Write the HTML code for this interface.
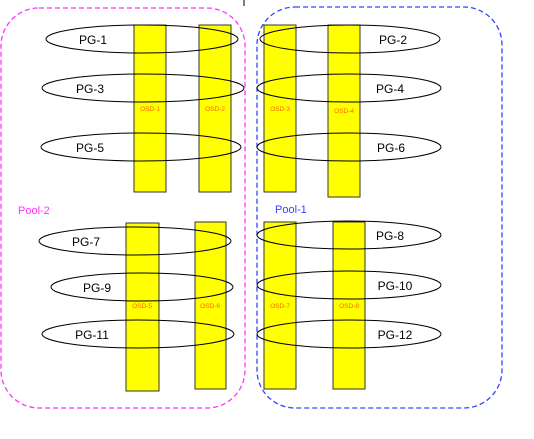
<!DOCTYPE html>
<html><head><style>body{margin:0;background:#fff}svg{display:block}</style></head><body>
<svg width="534" height="439" viewBox="0 0 534 439" xmlns="http://www.w3.org/2000/svg" font-family="Liberation Sans, sans-serif">
<line x1="244" y1="0" x2="244" y2="6" stroke="#000" stroke-width="1"/>
<rect x="1" y="8" width="244" height="400" rx="38" fill="none" stroke="#ff33ff" stroke-width="1.3" stroke-dasharray="5,3"/>
<rect x="257" y="7" width="245" height="401" rx="38" fill="none" stroke="#3344ff" stroke-width="1.3" stroke-dasharray="5,3"/>
<g fill="#ffff00" stroke="#333" stroke-width="1">
<rect x="134" y="25" width="32" height="167"/>
<rect x="199" y="25" width="32" height="167"/>
<rect x="264" y="25" width="32" height="167"/>
<rect x="328" y="25" width="32" height="172"/>
<rect x="126" y="223" width="33" height="168"/>
<rect x="195" y="222" width="31" height="167"/>
<rect x="264" y="222" width="32" height="167"/>
<rect x="333" y="222" width="32" height="167"/>
</g>
<g fill="#ff6600" font-size="6.5" text-anchor="middle">
<text x="150" y="111">OSD-1</text><text x="215" y="111">OSD-2</text>
<text x="280" y="111">OSD-3</text><text x="344" y="113">OSD-4</text>
<text x="142" y="308">OSD-5</text><text x="210" y="308">OSD-6</text>
<text x="280" y="308">OSD-7</text><text x="349" y="308">OSD-8</text>
</g>
<g fill="none" stroke="#000" stroke-width="1">
<ellipse cx="142" cy="39" rx="96" ry="14"/>
<ellipse cx="143" cy="88" rx="101" ry="14"/>
<ellipse cx="141" cy="147" rx="100" ry="14"/>
<ellipse cx="350" cy="39" rx="90" ry="14"/>
<ellipse cx="349" cy="88" rx="92" ry="14"/>
<ellipse cx="349" cy="147" rx="92" ry="14"/>
<ellipse cx="135" cy="241" rx="96" ry="14"/>
<ellipse cx="142" cy="287" rx="91" ry="14"/>
<ellipse cx="138" cy="334" rx="96" ry="14"/>
<ellipse cx="349" cy="235" rx="92" ry="14"/>
<ellipse cx="349" cy="285" rx="92" ry="14"/>
<ellipse cx="349" cy="334" rx="92" ry="14"/>
</g>
<g fill="#000" font-size="12" text-anchor="middle">
<text x="93" y="44">PG-1</text><text x="90" y="93">PG-3</text><text x="90" y="152">PG-5</text>
<text x="393" y="44">PG-2</text><text x="390" y="93">PG-4</text><text x="391" y="152">PG-6</text>
<text x="86" y="246">PG-7</text><text x="97" y="292">PG-9</text><text x="92" y="339">PG-11</text>
<text x="390" y="240">PG-8</text><text x="395" y="290">PG-10</text><text x="395" y="339">PG-12</text>
</g>
<text x="18" y="214" font-size="11" fill="#ff33ff">Pool-2</text>
<text x="275" y="213" font-size="11" fill="#3344ff">Pool-1</text>
</svg>
</body></html>
